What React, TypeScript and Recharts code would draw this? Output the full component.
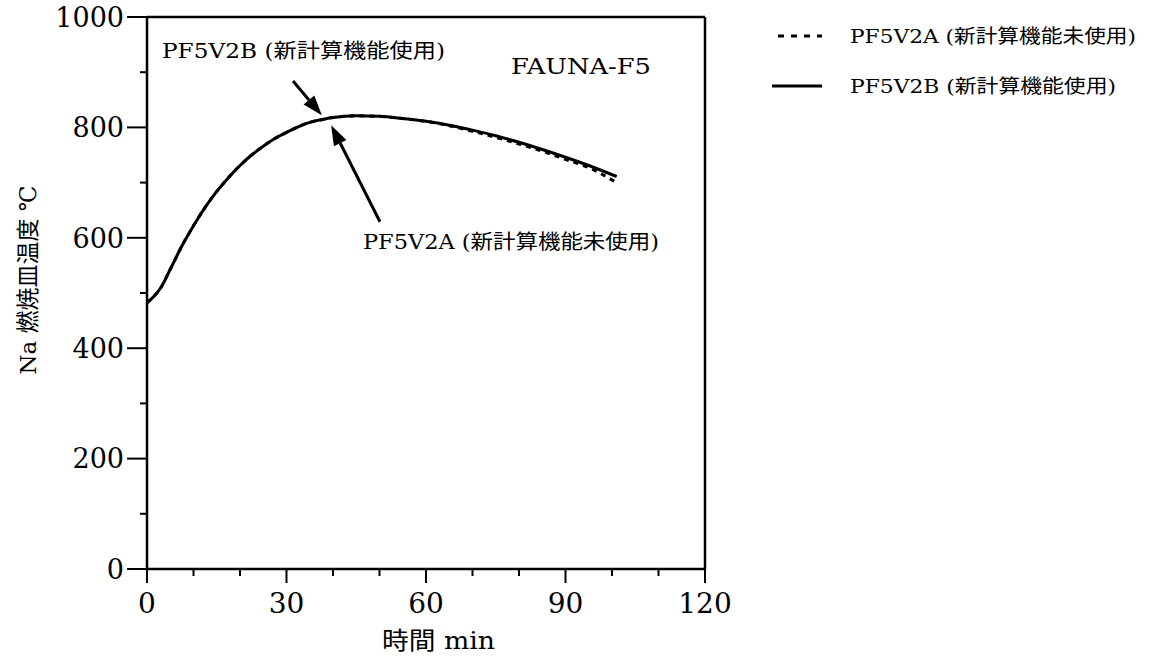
import React from 'react';
import { LineChart, Line, XAxis, YAxis, ReferenceLine, Legend } from 'recharts';

// time (min)
const times = [0, 1.5, 3, 5, 7.5, 10, 12.5, 15, 17.5, 20, 22.5, 25, 27.5, 30, 32.5, 35, 37.5, 40, 45, 50, 55, 60, 65, 70, 75, 80, 85, 90, 95, 101];
// PF5V2B (新計算機能使用) - solid
const pf5v2b = [482, 494, 510, 543, 585, 622, 655, 684, 709, 731, 750, 766, 780, 791, 801, 809, 814, 818, 821, 820, 816, 811, 804, 795, 785, 773, 760, 746, 731, 711];
// PF5V2A (新計算機能未使用) - dashed
const pf5v2a = [482, 494, 510, 543, 585, 622, 655, 684, 709, 731, 750, 766, 780, 791, 801, 809, 814, 818, 821, 820, 816, 811, 803, 793, 782, 770, 757, 742, 727, 700];

const xTicks = [0, 10, 20, 30, 40, 50, 60, 70, 80, 90, 100, 110, 120];
const yTicks = [0, 100, 200, 300, 400, 500, 600, 700, 800, 900, 1000];

const seriesNameA = 'PF5V2A (新計算機能未使用)';
const seriesNameB = 'PF5V2B (新計算機能使用)';

// annotation arrows, in data units: [tailT, tailV, tipT, tipV]
const arrowB = [31.4, 884, 37.6, 822];
const arrowA = [50.1, 629, 39.6, 804];

const data = times.map((t, i) => ({ t, a: pf5v2a[i], b: pf5v2b[i] }));

const FONT = "'DejaVu Serif', 'Noto Sans CJK JP', serif";

const XTick = (props: any) => {
  const { x, y, payload } = props;
  const major = payload.value % 30 === 0;
  return (
    <g>
      <line x1={x} x2={x} y1={y} y2={y + (major ? 14 : 7)} stroke="#000" strokeWidth={2} />
      {major && (
        <text x={x} y={y + 44} textAnchor="middle" fontFamily={FONT} fontSize={28} fill="#000">
          {payload.value}
        </text>
      )}
    </g>
  );
};

const YTick = (props: any) => {
  const { x, y, payload } = props;
  const major = payload.value % 200 === 0;
  return (
    <g>
      <line x1={x - (major ? 20 : 7)} x2={x} y1={y} y2={y} stroke="#000" strokeWidth={2} />
      {major && (
        <text x={x - 23} y={y} dy="0.36em" textAnchor="end" fontFamily={FONT} fontSize={27} fill="#000">
          {payload.value}
        </text>
      )}
    </g>
  );
};

const Arrow = (props: any) => {
  const { x1, y1, x2, y2 } = props;
  const ang = Math.atan2(y2 - y1, x2 - x1);
  const L = 20;
  const W = 7;
  const bx = x2 - L * Math.cos(ang);
  const by = y2 - L * Math.sin(ang);
  const px = -Math.sin(ang) * W;
  const py = Math.cos(ang) * W;
  return (
    <g>
      <line x1={x1} y1={y1} x2={bx} y2={by} stroke="#000" strokeWidth={3} />
      <polygon points={`${x2},${y2} ${bx + px},${by + py} ${bx - px},${by - py}`} fill="#000" />
    </g>
  );
};

const LegendContent = () => (
  <svg width={390} height={95} style={{ display: 'block' }}>
    <line x1={18} x2={62} y1={21} y2={21} stroke="#000" strokeWidth={3} strokeDasharray="6 7" />
    <text x={90} y={28} fontFamily={FONT} fontSize={19} fill="#000" textLength={286} lengthAdjust="spacingAndGlyphs">
      {seriesNameA}
    </text>
    <line x1={12} x2={62} y1={71} y2={71} stroke="#000" strokeWidth={3} />
    <text x={90} y={78} fontFamily={FONT} fontSize={19} fill="#000" textLength={266} lengthAdjust="spacingAndGlyphs">
      {seriesNameB}
    </text>
  </svg>
);

export default function App() {
  return (
    <div style={{ position: 'absolute', left: 0, top: 0, width: 1151, height: 664, background: '#fff' }}>
      <LineChart
        width={1151}
        height={664}
        data={data}
        margin={{ top: 17, right: 446, bottom: 0, left: 0 }}
      >
        <XAxis
          dataKey="t"
          type="number"
          domain={[0, 120]}
          ticks={xTicks}
          interval={0}
          height={95}
          tickSize={0}
          tickMargin={0}
          tickLine={false}
          axisLine={{ stroke: '#000', strokeWidth: 2.5 }}
          tick={<XTick />}
        />
        <YAxis
          type="number"
          domain={[0, 1000]}
          ticks={yTicks}
          interval={0}
          width={147}
          tickSize={0}
          tickMargin={0}
          tickLine={false}
          axisLine={{ stroke: '#000', strokeWidth: 2.5 }}
          tick={<YTick />}
        />
        <ReferenceLine y={1000} stroke="#000" strokeWidth={2.5} />
        <ReferenceLine x={120} stroke="#000" strokeWidth={2.5} />
        <Line
          type="monotone"
          dataKey="b"
          name={seriesNameB}
          stroke="#000"
          strokeWidth={3}
          dot={false}
          activeDot={false}
          isAnimationActive={false}
        />
        <Line
          type="monotone"
          dataKey="a"
          name={seriesNameA}
          stroke="#000"
          strokeWidth={3}
          strokeDasharray="5 5"
          dot={false}
          activeDot={false}
          isAnimationActive={false}
        />
        <ReferenceLine
          ifOverflow="visible"
          segment={[{ x: arrowB[0], y: arrowB[1] }, { x: arrowB[2], y: arrowB[3] }]}
          shape={<Arrow />}
        />
        <ReferenceLine
          ifOverflow="visible"
          segment={[{ x: arrowA[0], y: arrowA[1] }, { x: arrowA[2], y: arrowA[3] }]}
          shape={<Arrow />}
        />
        <Legend
          layout="vertical"
          align="center"
          verticalAlign="middle"
          content={<LegendContent />}
          wrapperStyle={{ left: 760, top: 15, width: 390, height: 95 }}
        />
      </LineChart>
      <svg
        width={1151}
        height={664}
        style={{ position: 'absolute', left: 0, top: 0, pointerEvents: 'none' }}
      >
        <text x={162} y={58} fontFamily={FONT} fontSize={20} fill="#000" textLength={283} lengthAdjust="spacingAndGlyphs">
          {seriesNameB}
        </text>
        <text x={363} y={249} fontFamily={FONT} fontSize={20} fill="#000" textLength={296} lengthAdjust="spacingAndGlyphs">
          {seriesNameA}
        </text>
        <text x={511} y={74} fontFamily={FONT} fontSize={23} fill="#000" textLength={140} lengthAdjust="spacingAndGlyphs">
          FAUNA-F5
        </text>
        <text x={382} y={649} fontFamily={FONT} fontSize={24} fill="#000" textLength={113} lengthAdjust="spacingAndGlyphs">
          時間 min
        </text>
        <text
          x={0}
          y={0}
          transform="translate(36, 280) rotate(-90)"
          textAnchor="middle"
          fontFamily={FONT}
          fontSize={23}
          fill="#000"
        >
          Na 燃焼皿温度 ℃
        </text>
      </svg>
    </div>
  );
}
